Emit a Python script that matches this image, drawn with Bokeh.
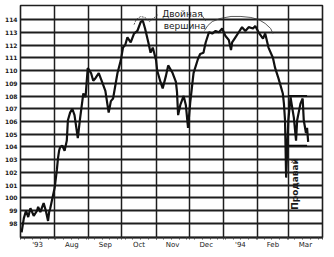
from datetime import datetime
from math import pi
import pandas as pd
from bokeh.plotting import figure
from bokeh.models import Range1d, FixedTicker
from bokeh.core.properties import value
from bokeh.embed import file_html
from bokeh.resources import INLINE

# ---- price series (T-bond futures, Jul 1993 - Mar 1994) ----
dates = ["1993-07-02", "1993-07-04", "1993-07-06", "1993-07-08", "1993-07-10", "1993-07-13",
         "1993-07-16", "1993-07-17", "1993-07-19", "1993-07-22", "1993-07-24", "1993-07-26",
         "1993-07-27", "1993-07-28", "1993-07-30", "1993-08-01", "1993-08-03", "1993-08-04",
         "1993-08-05", "1993-08-06", "1993-08-08", "1993-08-10", "1993-08-12", "1993-08-13",
         "1993-08-15", "1993-08-17", "1993-08-19", "1993-08-22", "1993-08-24", "1993-08-27",
         "1993-08-29", "1993-08-31", "1993-09-03", "1993-09-05", "1993-09-07", "1993-09-10",
         "1993-09-13", "1993-09-16", "1993-09-19", "1993-09-21", "1993-09-23", "1993-09-27",
         "1993-09-30", "1993-10-02", "1993-10-04", "1993-10-06", "1993-10-09", "1993-10-12",
         "1993-10-15", "1993-10-18", "1993-10-20", "1993-10-22", "1993-10-25", "1993-10-27",
         "1993-10-29", "1993-11-01", "1993-11-02", "1993-11-05", "1993-11-07", "1993-11-10",
         "1993-11-12", "1993-11-16", "1993-11-19", "1993-11-20", "1993-11-21", "1993-11-23",
         "1993-11-26", "1993-11-28", "1993-11-30", "1993-12-02", "1993-12-05", "1993-12-09",
         "1993-12-11", "1993-12-14", "1993-12-16", "1993-12-19", "1993-12-22", "1993-12-25",
         "1993-12-28", "1993-12-31", "1994-01-03", "1994-01-06", "1994-01-08", "1994-01-09",
         "1994-01-12", "1994-01-15", "1994-01-18", "1994-01-21", "1994-01-24", "1994-01-28",
         "1994-01-30", "1994-02-02", "1994-02-06", "1994-02-08", "1994-02-11", "1994-02-15",
         "1994-02-17", "1994-02-20", "1994-02-24", "1994-02-25", "1994-02-26", "1994-02-27",
         "1994-03-01", "1994-03-03", "1994-03-06", "1994-03-08", "1994-03-09", "1994-03-12",
         "1994-03-14", "1994-03-15", "1994-03-17", "1994-03-18", "1994-03-19"]
prices = [97.3, 98.4, 99.0, 98.5, 99.2, 98.6,
          99.0, 99.3, 98.9, 99.6, 99.0, 98.2,
          98.9, 99.2, 100.0, 100.8, 102.2, 103.1,
          103.7, 104.0, 104.1, 103.7, 104.5, 106.1,
          106.7, 107.0, 106.5, 104.7, 106.2, 108.2,
          107.9, 110.2, 109.8, 109.2, 109.4, 109.8,
          109.1, 108.4, 106.7, 107.6, 107.8, 109.8,
          110.8, 111.8, 112.0, 112.6, 112.2, 112.9,
          113.1, 113.8, 113.9, 113.3, 112.2, 111.4,
          111.8, 110.8, 110.0, 109.1, 108.6, 109.6,
          110.4, 109.8, 109.1, 108.3, 106.5, 107.3,
          108.0, 107.3, 105.5, 107.5, 109.8, 110.9,
          111.3, 111.4, 112.2, 113.0, 112.9, 113.1,
          113.0, 113.3, 112.7, 112.4, 111.6, 112.2,
          112.6, 113.0, 113.4, 113.1, 113.4, 113.3,
          113.5, 113.0, 112.5, 112.9, 111.8, 111.0,
          110.2, 109.4, 108.2, 107.4, 106.1, 101.6,
          106.1, 107.9, 106.3, 104.5, 106.1, 107.4,
          107.8, 106.1, 105.1, 105.5, 104.4]

# ---- axes ----
month_starts = ["1993-07-01", "1993-08-01", "1993-09-01", "1993-10-01", "1993-11-01",
                "1993-12-01", "1994-01-01", "1994-02-01", "1994-03-01", "1994-04-01"]
month_labels = ["'93", "Aug", "Sep", "Oct", "Nov", "Dec", "'94", "Feb", "Mar"]
y_ticks = list(range(98, 115))
y_min, y_max = 96.9, 115.1

# ---- annotations ----
top_arc_dates = ["1993-12-15", "1993-12-18", "1993-12-22", "1993-12-29", "1994-01-08", "1994-01-17",
                 "1994-01-26", "1994-02-02", "1994-02-08", "1994-02-13", "1994-02-15"]
top_arc_vals = [113.14, 113.53, 113.84, 114.08, 114.24, 114.24, 114.16, 114.0, 113.69, 113.29, 112.9]
peak1_arc_dates = ["1993-10-12", "1993-10-14", "1993-10-18", "1993-10-22", "1993-10-26", "1993-11-03"]
peak1_arc_vals = [113.6, 114.0, 114.24, 114.16, 113.84, 114.4]
link_dates = ["1993-12-12", "1993-12-16"]
link_vals = [114.4, 113.9]
box_dates = ["1994-03-01", "1994-03-18"]
box_top = [108.0, 108.0]
box_bottom = [104.1, 104.1]
title_text = ["Двойная", "вершина"]
title_dates = ["1993-11-25", "1993-11-27"]
title_vals = [114.45, 113.5]
sell_text = ["Продавай"]
sell_dates = ["1994-03-07"]
sell_vals = [101.1]


def ts(s):
    return pd.Timestamp(s).to_pydatetime()


def ms(s):
    return int(pd.Timestamp(s).value // 10**6)


ms_starts = [ms(s) for s in month_starts]
mid_ticks = [(a + b) // 2 for a, b in zip(ms_starts[:-1], ms_starts[1:])]
week_ticks = [int(t.value // 10**6) for t in pd.date_range("1993-07-05", "1994-03-31", freq="7D")]

p = figure(width=334, height=257, x_axis_type="datetime",
           x_range=Range1d(ts(month_starts[0]), ts(month_starts[-1])),
           y_range=Range1d(y_min, y_max),
           output_backend="svg", toolbar_location=None,
           min_border_left=20, min_border_right=12, min_border_top=5, min_border_bottom=20)
p.background_fill_color = "white"
p.border_fill_color = "white"
p.outline_line_color = "#1e1e1e"
p.outline_line_width = 1.6

p.ygrid.ticker = FixedTicker(ticks=y_ticks)
p.ygrid.grid_line_color = "#1e1e1e"
p.ygrid.grid_line_width = 1.8
p.xgrid.ticker = FixedTicker(ticks=ms_starts)
p.xgrid.grid_line_color = "#1e1e1e"
p.xgrid.grid_line_width = 1.5

p.yaxis.ticker = FixedTicker(ticks=y_ticks)
p.yaxis.major_label_text_font = "DejaVu Sans"
p.yaxis.major_label_text_font_size = "6px"
p.yaxis.major_label_text_font_style = "bold"
p.yaxis.major_label_text_color = "#1a1a1a"
p.yaxis.major_tick_out = 0
p.yaxis.major_tick_in = 0
p.yaxis.minor_tick_out = 0
p.yaxis.minor_tick_in = 0
p.yaxis.axis_line_color = None
p.yaxis.major_label_standoff = 3

p.xaxis.ticker = FixedTicker(ticks=mid_ticks, minor_ticks=week_ticks + ms_starts)
p.xaxis.major_label_overrides = {t: lab for t, lab in zip(mid_ticks, month_labels)}
p.xaxis.major_label_text_font = "DejaVu Sans"
p.xaxis.major_label_text_font_size = "7px"
p.xaxis.major_label_text_color = "#1a1a1a"
p.xaxis.major_tick_out = 0
p.xaxis.major_tick_in = 0
p.xaxis.minor_tick_out = 2
p.xaxis.minor_tick_in = 0
p.xaxis.minor_tick_line_color = "#444"
p.xaxis.axis_line_width = 1.8
p.xaxis.axis_line_color = "#1e1e1e"
p.xaxis.major_label_standoff = 1

# price line
p.line([ts(d) for d in dates], prices, line_color="#111111", line_width=2.2)

# annotations
p.line([ts(d) for d in top_arc_dates], top_arc_vals, line_color="#333", line_width=0.8)
p.line([ts(d) for d in peak1_arc_dates], peak1_arc_vals, line_color="#333", line_width=0.8,
       line_dash="2 1")
p.line([ts(d) for d in link_dates], link_vals, line_color="#333", line_width=0.8)
p.line([ts(d) for d in box_dates], box_top, line_color="#111", line_width=2.2)
p.line([ts(d) for d in box_dates], box_bottom, line_color="#111", line_width=1.8)

p.text([ts(d) for d in title_dates], title_vals, text=title_text,
       text_font=value("DejaVu Sans"), text_font_size=value("9px"),
       text_color="#1a1a1a", text_align="center", text_baseline="middle")
p.text([ts(d) for d in sell_dates], sell_vals, text=sell_text, angle=pi / 2,
       text_font=value("DejaVu Sans"), text_font_size=value("9px"), text_font_style="bold",
       text_color="#1a1a1a", text_align="center", text_baseline="middle")

open("out.html", "w").write(file_html(p, INLINE))
